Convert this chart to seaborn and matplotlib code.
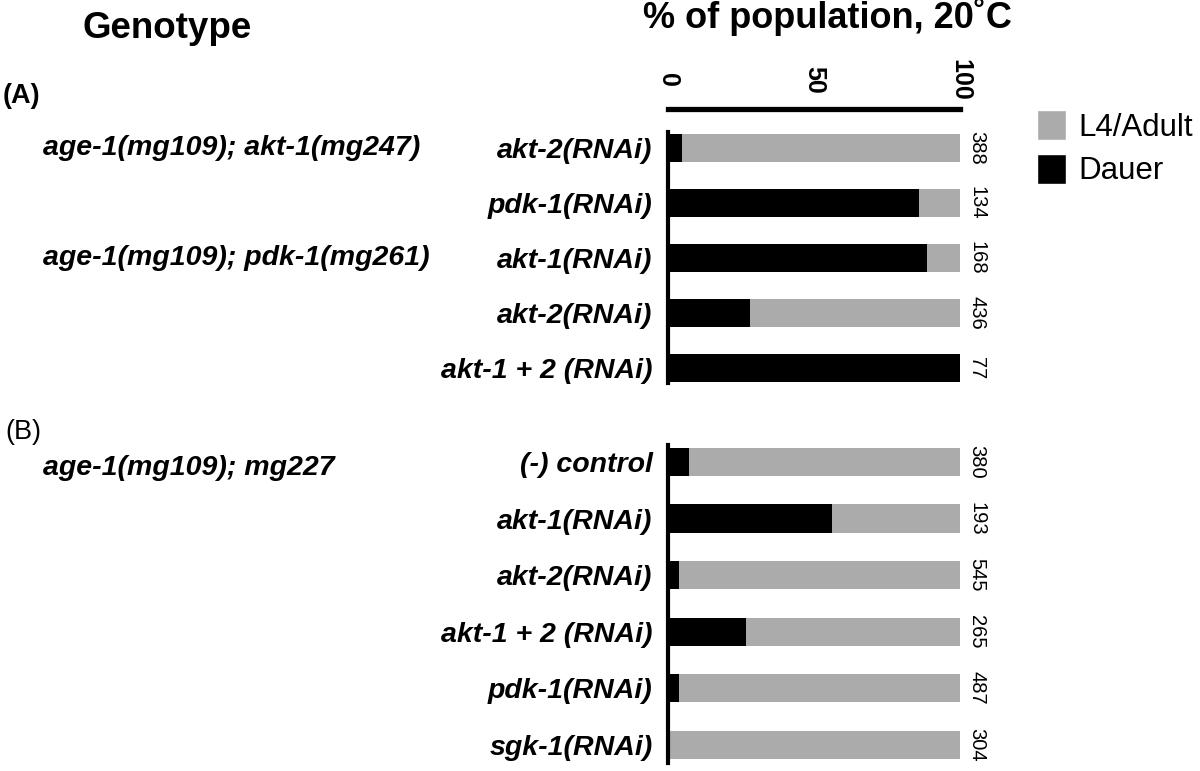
import pandas as pd
import matplotlib.pyplot as plt
import matplotlib.transforms as mtransforms
from matplotlib.patches import Patch
import seaborn as sns

# (A) rows
a_rnai = ['akt-2(RNAi)', 'pdk-1(RNAi)', 'akt-1(RNAi)', 'akt-2(RNAi)', 'akt-1 + 2 (RNAi)']
a_dauer = [4.8, 86.0, 88.7, 28.0, 100.0]
a_n = [388, 134, 168, 436, 77]
a_geno_rows = [0, 2]
a_geno_labels = ['age-1(mg109); akt-1(mg247)', 'age-1(mg109); pdk-1(mg261)']

# (B) rows
b_rnai = ['(-) control', 'akt-1(RNAi)', 'akt-2(RNAi)', 'akt-1 + 2 (RNAi)', 'pdk-1(RNAi)', 'sgk-1(RNAi)']
b_dauer = [7.2, 56.0, 3.8, 26.7, 3.8, 0.5]
b_n = [380, 193, 545, 265, 487, 304]
b_geno_rows = [0]
b_geno_labels = ['age-1(mg109); mg227']

x_ticks = [0, 50, 100]

GRAY = '#ababab'
BLACK = '#000000'

sns.set_theme(style='white')
plt.rcParams['font.family'] = ['Liberation Sans', 'DejaVu Sans']
plt.rcParams['text.color'] = 'black'
plt.rcParams['xtick.color'] = 'black'
plt.rcParams['ytick.color'] = 'black'
plt.rcParams['axes.labelcolor'] = 'black'

W, H = 1200, 771
fig = plt.figure(figsize=(12, 7.71), dpi=100)
axA = fig.add_axes([668 / W, 1 - 383 / H, 292 / W, (383 - 109) / H])
axB = fig.add_axes([668 / W, 1 - 763 / H, 292 / W, (763 - 445) / H])


def draw_panel(ax, rnai, dauer, counts, geno_rows, geno_labels, ylim, spine_bounds, geno_dy=0.0):
    df = pd.DataFrame({'row': range(len(rnai)), 'dauer': dauer})
    df['total'] = 100.0
    sns.barplot(data=df, x='total', y='row', orient='h', color=GRAY, width=0.5,
                saturation=1, linewidth=0, ax=ax)
    sns.barplot(data=df, x='dauer', y='row', orient='h', color=BLACK, width=0.5,
                saturation=1, linewidth=0, ax=ax)
    ax.set_xlim(0, 100)
    ax.set_ylim(*ylim)
    ax.set_xlabel('')
    ax.set_ylabel('')
    ax.set_yticks(range(len(rnai)))
    ax.set_yticklabels(rnai, fontsize=20.5, fontweight='bold', fontstyle='italic')
    ax.tick_params(axis='y', length=0, pad=11)
    for sp in ['right', 'bottom', 'top']:
        ax.spines[sp].set_visible(False)
    ax.spines['left'].set_color('black')
    ax.spines['left'].set_linewidth(3)
    ax.spines['left'].set_bounds(*spine_bounds)
    ax.set_facecolor('none')
    for i, n in enumerate(counts):
        ax.text(105.8, i, str(n), rotation=-90, ha='center', va='center',
                fontsize=14.5, clip_on=False)
    trans = mtransforms.blended_transform_factory(fig.transFigure, ax.transData)
    for r, lab in zip(geno_rows, geno_labels):
        ax.text(43 / W, r + geno_dy, lab, transform=trans, ha='left', va='center',
                fontsize=20.5, fontweight='bold', fontstyle='italic')


draw_panel(axA, a_rnai, a_dauer, a_n, a_geno_rows, a_geno_labels,
           (4.27, -0.71), (-0.29, 4.27))
draw_panel(axB, b_rnai, b_dauer, b_n, b_geno_rows, b_geno_labels,
           (5.32, -0.30), (-0.30, 5.32), geno_dy=0.1)

# top percentage axis on panel A
axA.spines['top'].set_visible(True)
axA.spines['top'].set_color('black')
axA.spines['top'].set_linewidth(3.8)
axA.xaxis.tick_top()
axA.set_xticks(x_ticks)
axA.set_xticklabels([str(t) for t in x_ticks], rotation=-90, va='center',
                    fontsize=18, fontweight='bold')
axA.tick_params(axis='x', length=0, pad=21)
axB.set_xticks([])

fig.text(827 / W, 1 - 28 / H, '% of population, 20˚C', ha='center', va='baseline',
         fontsize=26, fontweight='bold')
fig.text(167 / W, 1 - 38 / H, 'Genotype', ha='center', va='baseline',
         fontsize=26.5, fontweight='bold')
fig.text(3 / W, 1 - 96 / H, '(A)', ha='left', va='center', fontsize=19.5, fontweight='bold')
fig.text(5 / W, 1 - 432 / H, '(B)', ha='left', va='center', fontsize=19.5)

handles = [Patch(facecolor=GRAY, label='L4/Adult'), Patch(facecolor=BLACK, label='Dauer')]
fig.legend(handles=handles, loc='upper left', bbox_to_anchor=(1037 / W, 1 - 110 / H),
           frameon=False, fontsize=22.5, handlelength=0.93, handleheight=1.1,
           handletextpad=0.38, labelspacing=0.35, borderaxespad=0, borderpad=0)

fig.savefig('out.png', dpi=100)
